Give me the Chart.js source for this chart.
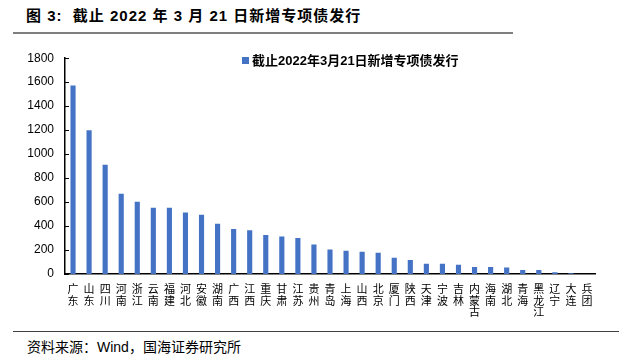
<!DOCTYPE html>
<html>
<head>
<meta charset="utf-8">
<script src="https://cdn.jsdelivr.net/npm/chart.js@4"></script>
<style>
  body { margin: 0; width: 631px; height: 362px; background: #fff; position: relative; overflow: hidden;
         font-family: "Liberation Sans", "Noto Sans CJK SC", sans-serif; }
  #title { position: absolute; left: 26px; top: 4px; font-size: 15px; font-weight: bold; color: #000; white-space: pre; letter-spacing: 1px; }
  #topLine { position: absolute; left: 13px; top: 32px; width: 500px; height: 2px; background: #7f7f7f; }
  #wrap { position: absolute; left: 0; top: 40px; width: 631px; height: 290px; }
  #legend { position: absolute; left: 242px; top: 50px; font-size: 13px; font-weight: bold; color: #000; white-space: nowrap; }
  #legend span.box { display: inline-block; width: 7px; height: 7px; background: #4472C4; margin-right: 3px; vertical-align: 1px; }
  #botLine { position: absolute; left: 13px; top: 331px; width: 606px; height: 1px; background: #404040; }
  #source { position: absolute; left: 27px; top: 336px; font-size: 14px; color: #000; white-space: pre; }
</style>
</head>
<body>
<div id="title">图 3:  截止 2022 年 3 月 21 日新增专项债发行</div>
<div id="topLine"></div>
<div id="wrap"><canvas id="chart"></canvas></div>
<div id="legend"><span class="box"></span>截止2022年3月21日新增专项债发行</div>
<div id="botLine"></div>
<div id="source">资料来源：Wind，国海证券研究所</div>
<script>
// 省份 / 计划单列市
const regions = ["广东", "山东", "四川", "河南", "浙江", "云南", "福建", "河北", "安徽", "湖南", "广西",
  "江西", "重庆", "甘肃", "江苏", "贵州", "青岛", "上海", "山西", "北京", "厦门", "陕西",
  "天津", "宁波", "吉林", "内蒙古", "海南", "湖北", "青海", "黑龙江", "辽宁", "大连", "兵团"];
// 新增专项债发行（亿元）
const issued = [1572, 1200, 912, 669, 603, 553, 553, 514, 495, 420, 376,
  365, 326, 312, 301, 246, 205, 193, 185, 177, 135, 116,
  85, 85, 77, 58, 58, 54, 33, 33, 14, 6, 0];
const yTicks = [0, 200, 400, 600, 800, 1000, 1200, 1400, 1600, 1800];
const seriesName = "截止2022年3月21日新增专项债发行";

// vertical labels: one character per line
const verticalLabels = regions.map(r => r.split(""));

// small tick marks pointing into the plot, like the original
const innerTicks = {
  id: "innerTicks",
  afterDraw(chart) {
    const ctx = chart.ctx;
    const y = chart.scales.y;
    const x0 = chart.chartArea.left;
    ctx.save();
    ctx.strokeStyle = "#000";
    ctx.lineWidth = 1;
    yTicks.forEach(v => {
      const py = Math.round(y.getPixelForValue(v)) + 0.5;
      ctx.beginPath();
      ctx.moveTo(x0, py);
      ctx.lineTo(x0 + 4, py);
      ctx.stroke();
    });
    ctx.restore();
  }
};

const ctx = document.getElementById("chart").getContext("2d");
const chart = new Chart(ctx, {
  type: "bar",
  data: {
    labels: verticalLabels,
    datasets: [
      {
        label: seriesName,
        data: issued,
        backgroundColor: "#4472C4",
        categoryPercentage: 1,
        barPercentage: 0.32
      }
    ]
  },
  options: {
    responsive: true,
    maintainAspectRatio: false,
    animation: false,
    layout: { padding: { left: 0, right: 36, top: 13, bottom: 0 } },
    plugins: {
      legend: { display: false },
      tooltip: { enabled: false }
    },
    scales: {
      x: {
        grid: { display: false, drawTicks: false },
        border: { color: "#000", width: 1.5 },
        ticks: {
          color: "#000",
          maxRotation: 0,
          minRotation: 0,
          autoSkip: false,
          padding: 9,
          font: { family: "'Noto Sans CJK SC', sans-serif", size: 11, lineHeight: 1.05 }
        },
        afterFit: s => { s.height = 56; }
      },
      y: {
        min: 0,
        max: 1800,
        grid: { display: false, drawTicks: false },
        border: { color: "#000", width: 1.5 },
        ticks: {
          stepSize: 200,
          color: "#000",
          padding: 11,
          font: { family: "'Liberation Sans', Arial, sans-serif", size: 12 },
          callback: v => String(v)
        },
        afterBuildTicks: s => { s.ticks = yTicks.map(v => ({ value: v })); },
        afterFit: s => { s.width = 65; }
      }
    }
  },
  plugins: [innerTicks]
});
</script>
</body>
</html>
